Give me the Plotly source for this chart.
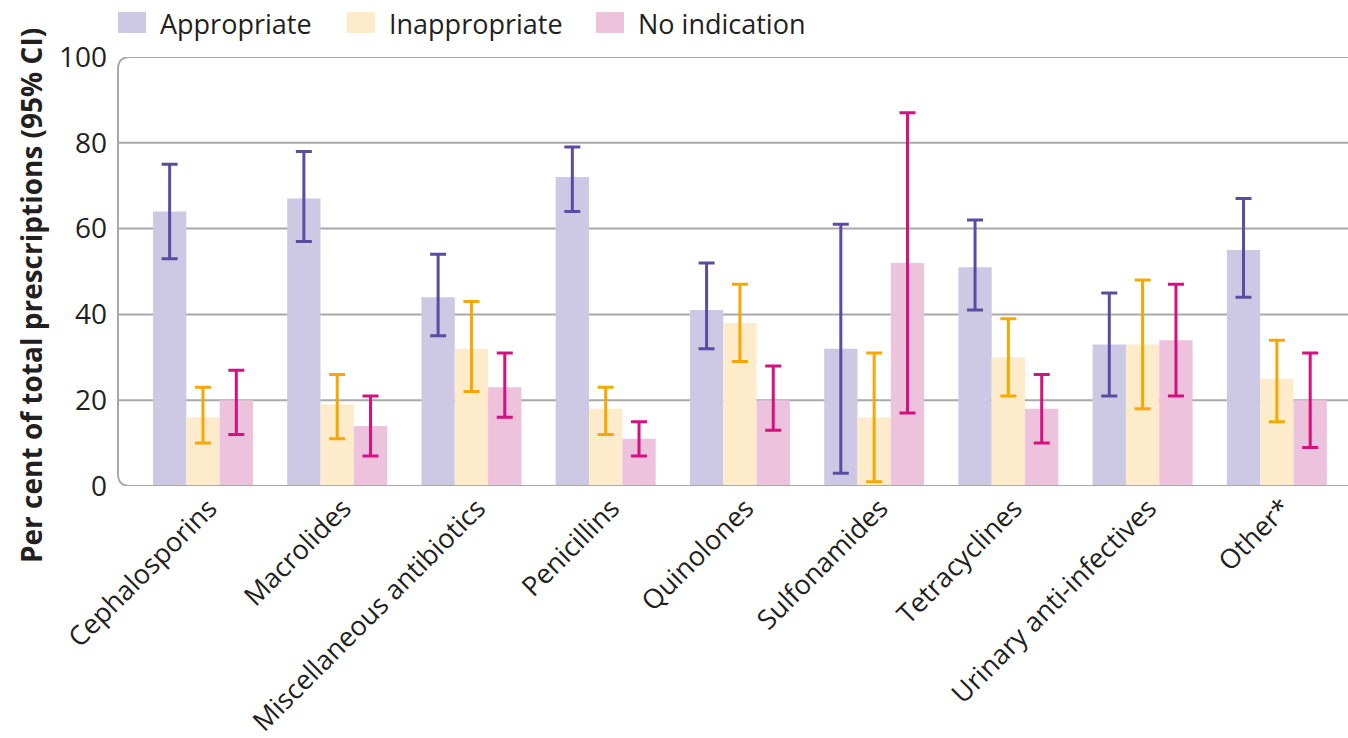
import plotly.graph_objects as go

categories = ["Cephalosporins", "Macrolides", "Miscellaneous antibiotics", "Penicillins",
              "Quinolones", "Sulfonamides", "Tetracyclines", "Urinary anti-infectives", "Other*"]

appropriate = [64, 67, 44, 72, 41, 32, 51, 33, 55]
appropriate_lo = [53, 57, 35, 64, 32, 3, 41, 21, 44]
appropriate_hi = [75, 78, 54, 79, 52, 61, 62, 45, 67]

inappropriate = [16, 19, 32, 18, 38, 16, 30, 33, 25]
inappropriate_lo = [10, 11, 22, 12, 29, 1, 21, 18, 15]
inappropriate_hi = [23, 26, 43, 23, 47, 31, 39, 48, 34]

no_indication = [20, 14, 23, 11, 20, 52, 18, 34, 20]
no_indication_lo = [12, 7, 16, 7, 13, 17, 10, 21, 9]
no_indication_hi = [27, 21, 31, 15, 28, 87, 26, 47, 31]

y_ticks = [0, 20, 40, 60, 80, 100]

series = [
    ("Appropriate", appropriate, appropriate_lo, appropriate_hi, "#cdc9e5", "#5a4ca3"),
    ("Inappropriate", inappropriate, inappropriate_lo, inappropriate_hi, "#fdebcc", "#f6a800"),
    ("No indication", no_indication, no_indication_lo, no_indication_hi, "#ecc2dd", "#d5107f"),
]

FONT = "Open Sans"
TXT = "#231f20"
W, H = 1348, 738
L, R, T, B = 118, 0, 57, 252
PW, PH = W - L - R, H - T - B


def px(x):
    return (x - L) / PW


def py(y):
    return (H - B - y) / PH


fig = go.Figure()
for name, vals, lo, hi, fill, ecol in series:
    fig.add_trace(go.Bar(
        name=name, x=categories, y=vals, showlegend=False,
        marker=dict(color=fill, line=dict(width=0)),
        error_y=dict(type="data", symmetric=False,
                     array=[h - v for h, v in zip(hi, vals)],
                     arrayminus=[v - l for v, l in zip(vals, lo)],
                     color=ecol, thickness=3, width=8),
    ))

shapes = []
for t in y_ticks[1:-1]:
    shapes.append(dict(type="line", xref="paper", yref="y", x0=0, x1=1, y0=t, y1=t,
                       line=dict(color="#a9a9a9", width=2), layer="below"))
rx = 12 / PW
ry = 12 / (PH / 100)
shapes.append(dict(type="path", xref="paper", yref="y", layer="above",
                   path=f"M 1,100 L {rx},100 Q 0,100 0,{100-ry} L 0,{ry} Q 0,0 {rx},0 L 1,0",
                   line=dict(color="#a9a9a9", width=2)))

# custom legend (swatch + label)
annotations = []
legend_x = [118, 347, 596]
for (name, *_rest), lx in zip(series, legend_x):
    fill = _rest[3]
    shapes.append(dict(type="rect", xref="paper", yref="paper",
                       x0=px(lx), x1=px(lx + 28), y0=py(33), y1=py(12),
                       fillcolor=fill, line=dict(width=0)))
    annotations.append(dict(text=name, xref="paper", yref="paper",
                            x=px(lx + 40), y=py(23), xanchor="left", yanchor="middle",
                            showarrow=False, font=dict(family=FONT, size=27, color=TXT)))

annotations.append(dict(text="<b>Per cent of total prescriptions (95% CI)</b>",
                        textangle=-90, xref="paper", yref="paper",
                        x=px(31), y=py(296),
                        xanchor="center", yanchor="middle", showarrow=False,
                        font=dict(family=FONT, size=28, color=TXT)))

fig.update_layout(
    width=W, height=H,
    margin=dict(l=L, r=R, t=T, b=B, autoexpand=False),
    paper_bgcolor="white", plot_bgcolor="white",
    barmode="group", bargap=0.255, bargroupgap=0,
    font=dict(family=FONT, color=TXT),
    showlegend=False,
    shapes=shapes,
    annotations=annotations,
    xaxis=dict(range=[-0.633, 8.53], tickangle=-45, showline=False, showgrid=False,
               ticks="", ticklabelshift=6, ticklabelstandoff=0,
               tickfont=dict(size=27, family=FONT, color=TXT)),
    yaxis=dict(range=[0, 100], tickvals=y_ticks, showgrid=False, zeroline=False,
               showline=False, ticks="", ticklabelstandoff=10,
               tickfont=dict(size=28, family=FONT, color=TXT)),
)

fig.write_html("out.html", config={"displayModeBar": False},
               post_script="document.body.style.margin='0';document.body.style.overflow='hidden';")
